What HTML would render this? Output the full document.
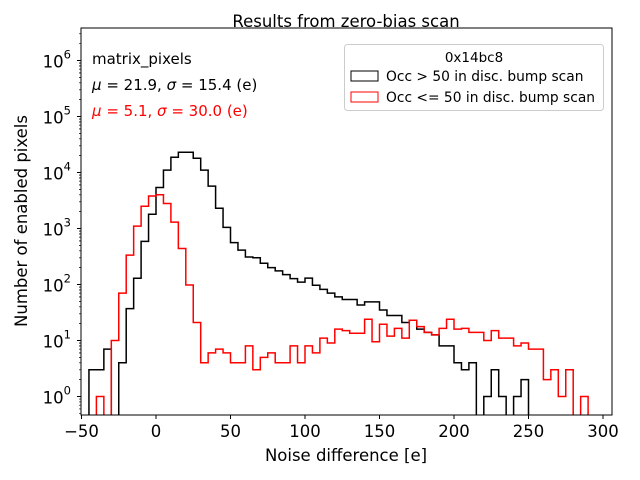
<!DOCTYPE html>
<html><head><meta charset="utf-8"><style>
body{margin:0;background:#fff}
svg{display:block;font-family:"DejaVu Sans","Liberation Sans",sans-serif}
</style></head><body>
<svg id="chart" width="640" height="480" xmlns="http://www.w3.org/2000/svg">
<rect width="640" height="480" fill="#fff"/>
<text x="346" y="28" font-size="16.5" text-anchor="middle" dy="-1">Results from zero-bias scan</text>
<defs><clipPath id="plotclip"><rect x="81" y="28" width="531" height="387"/></clipPath></defs>
<g id="series" clip-path="url(#plotclip)"></g>
<g id="axes"></g>
<rect x="81" y="28" width="531" height="387" fill="none" stroke="#000" stroke-width="1"/>
<text x="92" y="64" font-size="15">matrix_pixels</text>
<text x="92" y="90" font-size="15"><tspan font-style="italic">μ</tspan> = 21.9, <tspan font-style="italic">σ</tspan> = 15.4 (e)</text>
<text x="92" y="116" font-size="15" fill="#ff0000"><tspan font-style="italic">μ</tspan> = 5.1, <tspan font-style="italic">σ</tspan> = 30.0 (e)</text>
<g>
<rect x="344.5" y="44.5" width="259" height="66" rx="3" fill="#fff" fill-opacity="0.8" stroke="#ccc"/>
<text x="474" y="62" font-size="13.5" text-anchor="middle">0x14bc8</text>
<rect x="351" y="71" width="27" height="10" fill="none" stroke="#000"/>
<text x="386" y="81" font-size="13.8">Occ &gt; 50 in disc. bump scan</text>
<rect x="351" y="92" width="27" height="10" fill="none" stroke="#ff0000"/>
<text x="386" y="102" font-size="13.8">Occ &lt;= 50 in disc. bump scan</text>
</g>
<text x="346" y="461" font-size="16.5" text-anchor="middle">Noise difference [e]</text>
<text x="27" y="221" font-size="16.5" text-anchor="middle" transform="rotate(-90 27 221)">Number of enabled pixels</text>
</svg>
<script>
const binStart = -45;
const binWidth = 5;
const blackCounts = [3,3,7,0,4,37,129,590,1800,5400,11000,18700,23000,23000,18000,11000,5700,2300,1050,560,410,310,300,240,200,175,150,127,110,130,97,82,70,60,54,54,43,49,49,35,28,28,21,23,16,14,12.6,8,8,4,3,4,0,1,3,1,0,1,2];
const redCounts = [0,1,0,10,70,335,1100,2500,3800,4000,2800,1300,440,98,21,4,6,7,6,4,4,8,3,5,6,4,4,8,4,8,6,11,9,16,15,13.5,13.5,24,9.5,19.5,12,16.5,11,23,17.7,14,12.6,16.5,24,16,16.5,14,14,10,15,11,11,8,9,7,7,2,3,1,3,0,1];
const xTicks = [-50,0,50,100,150,200,250,300];
const yTickExps = [0,1,2,3,4,5,6];

const NS="http://www.w3.org/2000/svg";
const L=81,R=612,T=28,B=415;
const xs=v=>156+1.49*v;
const ys=v=>396.5-56*Math.log10(v);
const BOT=B+20;
function mk(tag,attrs,parent){const e=document.createElementNS(NS,tag);for(const k in attrs)e.setAttribute(k,attrs[k]);parent.appendChild(e);return e;}
const series=document.getElementById('series');
function drawHist(counts,color,name){
  let d='';
  counts.forEach((c,i)=>{
    const x0=xs(binStart+i*binWidth),x1=xs(binStart+(i+1)*binWidth);
    const y=c>0?ys(c):BOT;
    d+=(i===0?'M'+x0+','+BOT+'L':'L')+x0+','+y+'L'+x1+','+y;
  });
  const xe=xs(binStart+counts.length*binWidth);
  d+='L'+xe+','+BOT;
  const p=mk('path',{d:d,fill:'none',stroke:color,'stroke-width':1.5},series);
  
  
}
drawHist(blackCounts,'#000','histogram-occ-gt-50');
drawHist(redCounts,'#ff0000','histogram-occ-le-50');
const axes=document.getElementById('axes');
xTicks.forEach(v=>{
  const x=xs(v);
  mk('line',{x1:x,x2:x,y1:B,y2:B+4,stroke:'#000'},axes);
  const t=mk('text',{x:x,y:B+22,'font-size':16.5,'text-anchor':'middle'},axes);
  t.textContent=(v<0?'\u2212'+(-v):String(v));
  
  
});
yTickExps.forEach(e=>{
  const y=ys(Math.pow(10,e));
  mk('line',{x1:L-4,x2:L,y1:y,y2:y,stroke:'#000'},axes);
  const t=mk('text',{x:L-10,y:y+7,'font-size':16.5,'text-anchor':'end'},axes);
  t.textContent='10';
  const s=mk('tspan',{dy:-9,'font-size':11.5},t);
  s.textContent=String(e);
  
  
  for(let m=2;m<=9;m++){
    for(const ee of [e-1,e]){
      const yy=ys(m*Math.pow(10,ee));
      if(yy>=T&&yy<=B) mk('line',{x1:L-2,x2:L,y1:yy,y2:yy,stroke:'#000','stroke-width':0.6},axes);
    }
  }
});
</script>
</body></html>
